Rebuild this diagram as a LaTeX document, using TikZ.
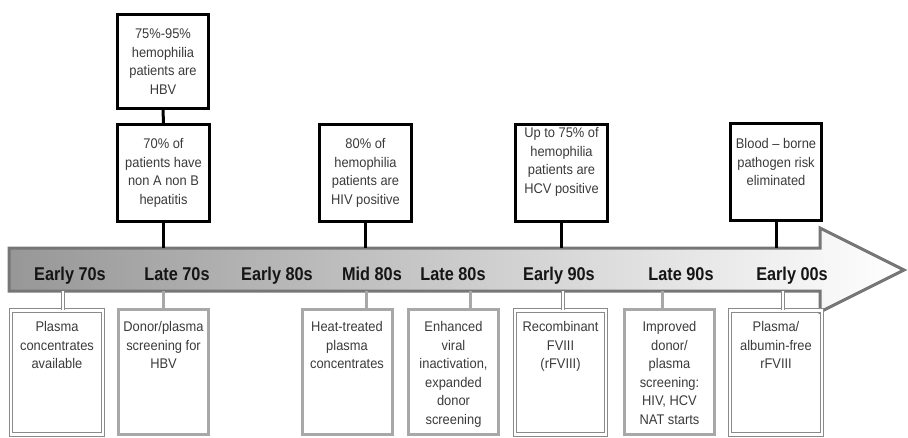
\documentclass[tikz,border=0pt]{standalone}
\usepackage{fontspec}
\setmainfont{Liberation Sans}[FakeStretch=0.92]
\newfontfamily\barfont{Liberation Sans}[FakeStretch=0.88]
\definecolor{txt}{HTML}{3A3A3A}
\definecolor{lab}{HTML}{151515}
\definecolor{boxgray}{HTML}{A8A8A8}
\definecolor{dblgray}{HTML}{8A8A8A}
\definecolor{barL}{HTML}{979797}
\definecolor{barR}{HTML}{FFFFFF}
\definecolor{barB}{HTML}{767676}
\newcommand\boxtext[5]{\parbox[c][#1][#2]{#3}{\vspace*{#4}\centering\fontsize{14}{18.5}\selectfont #5\par}}
\tikzset{
 topbox/.style={draw=black, line width=3pt, inner sep=0pt, text=txt},
 thickbox/.style={draw=boxgray, line width=3pt, inner sep=0pt, text=txt},
 dblbox/.style={draw=dblgray, line width=0.8pt, double=white, double distance=2.6pt, inner sep=0pt, text=txt},
 topconn/.style={draw=black, line width=3pt},
 thickconn/.style={draw=boxgray, line width=3pt},
 dblconn/.style={draw=dblgray, line width=0.7pt, double=white, double distance=2pt},
 barlabel/.style={anchor=base, font=\barfont\bfseries\fontsize{18.5}{20}\selectfont, text=lab, inner sep=0pt},
}
\begin{document}
\begin{tikzpicture}[x=1pt,y=-1pt]
\useasboundingbox (0,0) rectangle (908,437);
% timeline arrow
\path[left color=barL, right color=barR, draw=barB, line width=3pt, line join=miter]
 (9,248) -- (820,248) -- (820,228) -- (904,270) -- (820,312) -- (820,291) -- (9,291) -- cycle;
\coordinate (bartop) at (0,248);
\coordinate (barbot) at (0,291);
% bar labels
\node[barlabel] (l1) at (70,280) {Early 70s};
\node[barlabel] (l2) at (177,280) {Late 70s};
\node[barlabel] (l3) at (277,280) {Early 80s};
\node[barlabel] (l4) at (372,280) {Mid 80s};
\node[barlabel] (l5) at (453,280) {Late 80s};
\node[barlabel] (l6) at (559,280) {Early 90s};
\node[barlabel] (l7) at (681,280) {Late 90s};
\node[barlabel] (l8) at (792,280) {Early 00s};
% top boxes
\node[topbox] (t1) at (163,61.5) {\boxtext{94pt}{c}{91pt}{0pt}{75\%-95\%\\hemophilia\\patients are\\HBV}};
\node[topbox] (t2) at (163.5,173) {\boxtext{97pt}{c}{92pt}{0pt}{70\% of\\patients have\\non A non B\\hepatitis}};
\node[topbox] (t3) at (365.5,173) {\boxtext{97pt}{c}{92pt}{0pt}{80\% of\\hemophilia\\patients are\\HIV positive}};
\node[topbox] (t4) at (561.5,173) {\boxtext{97pt}{t}{92pt}{3pt}{Up to 75\% of\\hemophilia\\patients are\\HCV positive}};
\node[topbox] (t5) at (776,172) {\boxtext{97pt}{t}{91pt}{15pt}{Blood – borne\\pathogen risk\\eliminated}};
\draw[topconn] (t1.south) -- (t2.north);
\draw[topconn] (t2.south) -- (t2.south |- bartop);
\draw[topconn] (t3.south) -- (t3.south |- bartop);
\draw[topconn] (t4.south) -- (t4.south |- bartop);
\draw[topconn] (t5.south) -- (t5.south |- bartop);
% bottom boxes
\node[dblbox]   (b1) at (57,372.5)    {\boxtext{124pt}{t}{92pt}{11pt}{Plasma\\concentrates\\available}};
\node[thickbox] (b2) at (163.5,372)   {\boxtext{125pt}{t}{90pt}{12pt}{Donor/plasma\\screening for\\HBV}};
\node[thickbox] (b3) at (347,372)     {\boxtext{125pt}{t}{90pt}{12pt}{Heat-treated\\plasma\\concentrates}};
\node[thickbox] (b4) at (453.5,372)   {\boxtext{125pt}{t}{90pt}{12pt}{Enhanced\\viral\\inactivation,\\expanded\\donor\\screening}};
\node[dblbox]   (b5) at (560.5,372.5) {\boxtext{124pt}{t}{91pt}{11pt}{Recombinant\\FVIII\\(rFVIII)}};
\node[thickbox] (b6) at (669.5,372)   {\boxtext{125pt}{t}{90pt}{12pt}{Improved\\donor/\\plasma\\screening:\\HIV, HCV\\NAT starts}};
\node[dblbox]   (b7) at (776,372.5)   {\boxtext{124pt}{t}{92pt}{11pt}{Plasma/\\albumin-free\\rFVIII}};
% bottom connectors
\coordinate (d1) at (63,291);
\coordinate (d2) at (163,291);
\coordinate (d3) at (366,291);
\coordinate (d4) at (470,291);
\coordinate (d5) at (563,291);
\coordinate (d6) at (662,291);
\coordinate (d7) at (783,291);
\draw[dblconn] (d1) -- (d1 |- b1.north);
\draw[thickconn] (d2) -- (d2 |- b2.north);
\draw[thickconn] (d3) -- (d3 |- b3.north);
\draw[thickconn] (d4) -- (d4 |- b4.north);
\draw[dblconn] (d5) -- (d5 |- b5.north);
\draw[thickconn] (d6) -- (d6 |- b6.north);
\draw[dblconn] (d7) -- (d7 |- b7.north);
\end{tikzpicture}
\end{document}
